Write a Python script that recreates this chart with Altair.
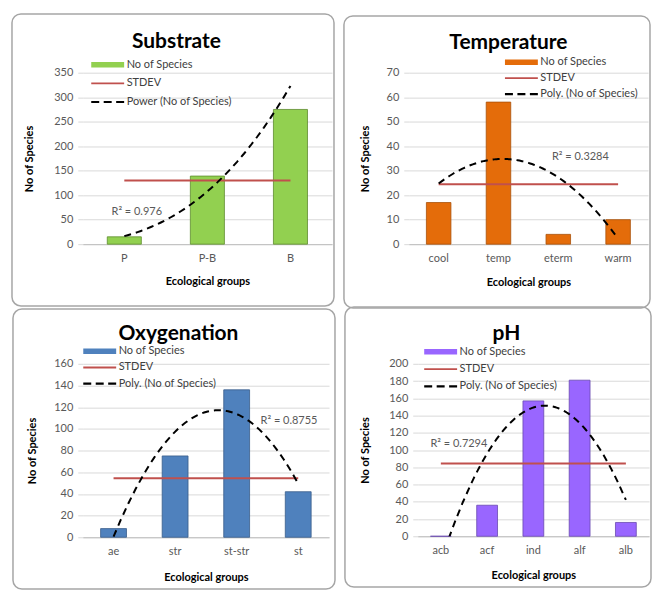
import altair as alt
import pandas as pd

FONT = "Lato"

# ---------------- data ----------------
sub_cats = ["P", "P-B", "B"]
sub_vals = [15, 139, 275]
tmp_cats = ["cool", "temp", "eterm", "warm"]
tmp_vals = [17, 58, 4, 10]
oxy_cats = ["ae", "str", "st-str", "st"]
oxy_vals = [8, 75, 136, 42]
ph_cats = ["acb", "acf", "ind", "alf", "alb"]
ph_vals = [0, 36, 157, 181, 16]

panel_titles = ["Substrate", "Temperature", "Oxygenation", "pH"]
trend_names = ["Power (No of Species)", "Poly. (No of Species)",
               "Poly. (No of Species)", "Poly. (No of Species)"]
trend_methods = ["pow", "poly", "poly", "poly"]
r2_labels = ["R² = 0.976", "R² = 0.3284", "R² = 0.8755", "R² = 0.7294"]
r2_x = [1.15, 3.37, 3.85, 1.39]
r2_y = [65, 35.4, 107.6, 107.5]
y_max = [350, 70, 160, 200]
y_step = [50, 10, 20, 20]
bar_colors = ["#92D050", "#E46C0A", "#4F81BD", "#9966FF"]
edge_colors = ["#5E8C2E", "#A8500A", "#385D8A", "#6A4AB0"]
series_base = ["No of Species", "STDEV"]

RED = "#C0504D"

# legend symbol paths (custom shapes)
PATH_BOX = "M-1,-0.55H5.6V0.55H-1Z"
PATH_LINE = "M-1,-0.18H5.6V0.18H-1Z"
PATH_DASH = ("M-1,-0.22H0.6V0.22H-1Z M1.5,-0.22H3.1V0.22H1.5Z "
             "M4,-0.22H5.6V0.22H4Z")

layouts = [
    dict(w=250, h=172, pad=0.59, fx=(-71, 252), fy=(-59, 234), tx=94, ty=-31,
         lx=8, ly=-13.5, rp=6.7, xty=37, ytx=-53),
    dict(w=240, h=172, pad=0.59, fx=(-65, 242), fy=(-57, 236), tx=100, ty=-30,
         lx=96, ly=-16, rp=4, xty=38, ytx=-43),
    dict(w=247, h=174, pad=0.58, fx=(-70, 253), fy=(-55, 226), tx=96, ty=-30,
         lx=0, ly=-18, rp=4.2, xty=40, ytx=-50),
    dict(w=232, h=173, pad=0.55, fx=(-73, 234), fy=(-57, 224), tx=89, ty=-30,
         lx=6, ly=-17.5, rp=5.3, xty=39, ytx=-52),
]


def panel(k, cats, vals):
    L = layouts[k]
    n = len(cats)
    df = pd.DataFrame({"cat": cats, "idx": list(range(1, n + 1)), "value": vals})
    xq = alt.Scale(domain=[0.5, n + 0.5])
    ys = alt.Scale(domain=[0, y_max[k]])
    color = bar_colors[k]
    edge = edge_colors[k]
    yaxis = alt.Axis(title="No of Species",
                     values=list(range(0, y_max[k] + 1, y_step[k])),
                     tickSize=5, labelPadding=5, domain=False,
                     titleX=L["ytx"], titleBaseline="middle")

    frame = alt.Chart(pd.DataFrame({"f": [0]})).mark_rect(
        fill="transparent", stroke="#A6A6A6", strokeWidth=1.5, cornerRadius=9
    ).encode(
        x=alt.value(L["fx"][0]), x2=alt.value(L["fx"][1]),
        y=alt.value(L["fy"][0]), y2=alt.value(L["fy"][1]),
    )

    bars = alt.Chart(df).mark_bar(color=color, stroke=edge, strokeWidth=0.8).encode(
        x=alt.X("cat:N", sort=cats,
                scale=alt.Scale(paddingInner=L["pad"], paddingOuter=L["pad"] / 2),
                axis=alt.Axis(title="Ecological groups", labelAngle=0, ticks=False,
                              domain=True, domainColor="#BFBFBF", labelPadding=8,
                              titleY=L["xty"], titleBaseline="middle")),
        y=alt.Y("value:Q", scale=ys, axis=yaxis),
    )

    rule = alt.Chart(df).transform_aggregate(
        sd="stdev(value)", lo="min(idx)", hi="max(idx)"
    ).mark_rule(color=RED, strokeWidth=2).encode(
        x=alt.X("lo:Q", scale=xq, axis=None), x2="hi:Q",
        y=alt.Y("sd:Q", scale=ys, axis=yaxis),
    )

    trend = alt.Chart(df).transform_regression(
        "idx", "value", method=trend_methods[k], order=2
    ).mark_line(color="black", strokeDash=[7, 5], strokeWidth=2, clip=True).encode(
        x=alt.X("idx:Q", scale=xq, axis=None),
        y=alt.Y("value:Q", scale=ys, axis=yaxis),
    )

    r2 = alt.Chart(pd.DataFrame({"tx": [r2_x[k]], "ty": [r2_y[k]], "t": [r2_labels[k]]})).mark_text(
        font=FONT, fontSize=11, color="#595959"
    ).encode(
        x=alt.X("tx:Q", scale=xq, axis=None),
        y=alt.Y("ty:Q", scale=ys, axis=yaxis),
        text="t:N",
    )

    ttl = alt.Chart(pd.DataFrame({"t": [panel_titles[k]]})).mark_text(
        font=FONT, fontSize=21, fontWeight="bold", color="black", baseline="middle"
    ).encode(x=alt.value(L["tx"]), y=alt.value(L["ty"]), text="t:N")

    series = series_base + [trend_names[k]]
    leg = alt.Chart(pd.DataFrame({"s": series})).mark_point(
        filled=True, size=0, strokeWidth=0, opacity=1
    ).encode(
        color=alt.Color("s:N", scale=alt.Scale(domain=series, range=[color, RED, "black"]),
                        legend=alt.Legend(title=None, orient="none", legendX=L["lx"],
                                          legendY=L["ly"], symbolSize=100, symbolOpacity=1,
                                          symbolStrokeWidth=0, labelOffset=25,
                                          rowPadding=L["rp"], labelFont=FONT,
                                          labelFontSize=11, labelColor="#404040",
                                          padding=0)),
        shape=alt.Shape("s:N", scale=alt.Scale(domain=series,
                                               range=[PATH_BOX, PATH_LINE, PATH_DASH])),
    )

    return alt.layer(frame, bars, rule, trend, r2, ttl, leg).resolve_scale(
        x="independent"
    ).properties(width=L["w"], height=L["h"])


p1 = panel(0, sub_cats, sub_vals)
p2 = panel(1, tmp_cats, tmp_vals)
p3 = panel(2, oxy_cats, oxy_vals)
p4 = panel(3, ph_cats, ph_vals)

row1 = alt.hconcat(p1, p2, spacing=8).resolve_scale(color="independent", shape="independent")
row2 = alt.hconcat(p3, p4, spacing=8).resolve_scale(color="independent", shape="independent")

chart = alt.vconcat(row1, row2, spacing=-3).resolve_scale(
    color="independent", shape="independent"
).properties(
    padding={"left": 3, "top": 4, "right": 0, "bottom": 0},
    background="white",
).configure_view(strokeWidth=0).configure_axis(
    gridColor="#D9D9D9", tickColor="#D9D9D9", labelFont=FONT, labelFontSize=11,
    labelColor="#595959", titleFont=FONT, titleFontSize=11, titleFontWeight="bold",
    titleColor="black",
).configure_axisY(grid=True).configure_axisX(grid=False)

chart.save("out.html", embed_options={"renderer": "svg", "actions": False})
